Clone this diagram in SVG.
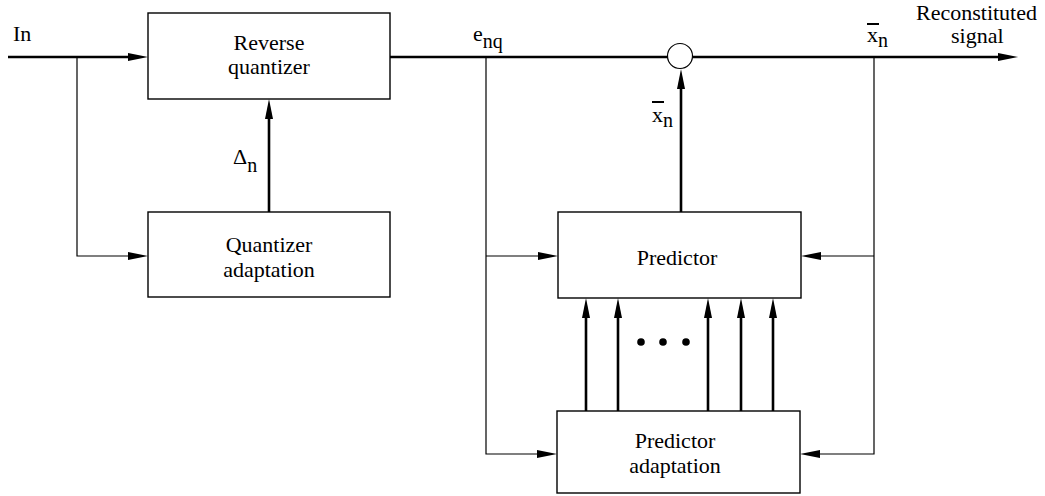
<svg xmlns="http://www.w3.org/2000/svg" width="1045" height="496" viewBox="0 0 1045 496">
<style>
.box{fill:#fff;stroke:#000;stroke-width:1.4}
.thick{fill:none;stroke:#000;stroke-width:2.6}
.thin{fill:none;stroke:#000;stroke-width:1.2}
.t{font-size:22px;fill:#000}
.c{text-anchor:middle}
.sub{font-size:20px}
</style>
<defs>
<marker id="ah" markerUnits="userSpaceOnUse" markerWidth="20" markerHeight="8" refX="10" refY="4" orient="auto" overflow="visible">
<path d="M0,0 L20,4 L0,8 z" fill="#000"/>
</marker>
</defs>
<rect width="1045" height="496" fill="#fff"/>
<g id="connectors">
<path class="thick" d="M8,57 H138" marker-end="url(#ah)"/>
<path class="thin" d="M77,57 V256 H138" marker-end="url(#ah)"/>
<path class="thick" d="M269,212 V109" marker-end="url(#ah)"/>
<path class="thick" d="M390,57 H667"/>
<path class="thick" d="M693,57 H1008" marker-end="url(#ah)"/>
<path class="thin" d="M486,57 V454 H547" marker-end="url(#ah)"/>
<path class="thin" d="M486,256 H548" marker-end="url(#ah)"/>
<path class="thin" d="M874,57 V454 H810" marker-end="url(#ah)"/>
<path class="thin" d="M874,256 H811" marker-end="url(#ah)"/>
<path class="thick" d="M681,212 V79" marker-end="url(#ah)"/>
<path class="thick" d="M586,411 V308" marker-end="url(#ah)"/>
<path class="thick" d="M618,411 V308" marker-end="url(#ah)"/>
<path class="thick" d="M708,411 V308" marker-end="url(#ah)"/>
<path class="thick" d="M741,411 V308" marker-end="url(#ah)"/>
<path class="thick" d="M773,411 V308" marker-end="url(#ah)"/>
</g>
<g id="sum">
<circle cx="680" cy="56" r="12.5" fill="#fff" stroke="#000" stroke-width="1.2"/>
</g>
<g id="dots">
<circle cx="641" cy="342" r="3.8" fill="#000"/>
<circle cx="663" cy="342" r="3.8" fill="#000"/>
<circle cx="686" cy="342" r="3.8" fill="#000"/>
</g>
<g font-family="Liberation Serif, Noto Serif, DejaVu Serif, serif">
<g id="reverse-quantizer">
<rect class="box" x="148" y="13" width="242" height="86"/>
<text class="t c" x="269" y="50">Reverse</text>
<text class="t c" x="269" y="74">quantizer</text>
</g>
<g id="quantizer-adaptation">
<rect class="box" x="148" y="212" width="242" height="85"/>
<text class="t c" x="269" y="252">Quantizer</text>
<text class="t c" x="269" y="277">adaptation</text>
</g>
<g id="predictor">
<rect class="box" x="558" y="212" width="243" height="86"/>
<text class="t c" x="677" y="265">Predictor</text>
</g>
<g id="predictor-adaptation">
<rect class="box" x="557" y="411" width="243" height="82"/>
<text class="t c" x="675" y="448">Predictor</text>
<text class="t c" x="675" y="473">adaptation</text>
</g>
<g id="labels">
<text class="t" x="13" y="41">In</text>
<text class="t" x="233" y="164">Δ<tspan class="sub" dy="8">n</tspan></text>
<text class="t" x="473" y="41">e<tspan class="sub" dy="7">nq</tspan></text>
<text class="t" x="652" y="122">x<tspan class="sub" dy="5">n</tspan></text>
<line x1="652" y1="102" x2="664" y2="102" stroke="#000" stroke-width="2"/>
<text class="t" x="867" y="42">x<tspan class="sub" dy="5">n</tspan></text>
<line x1="867" y1="24" x2="879" y2="24" stroke="#000" stroke-width="2"/>
<text class="t" x="916" y="20">Reconstituted</text>
<text class="t" x="951" y="43">signal</text>
</g>
</g>
</svg>
